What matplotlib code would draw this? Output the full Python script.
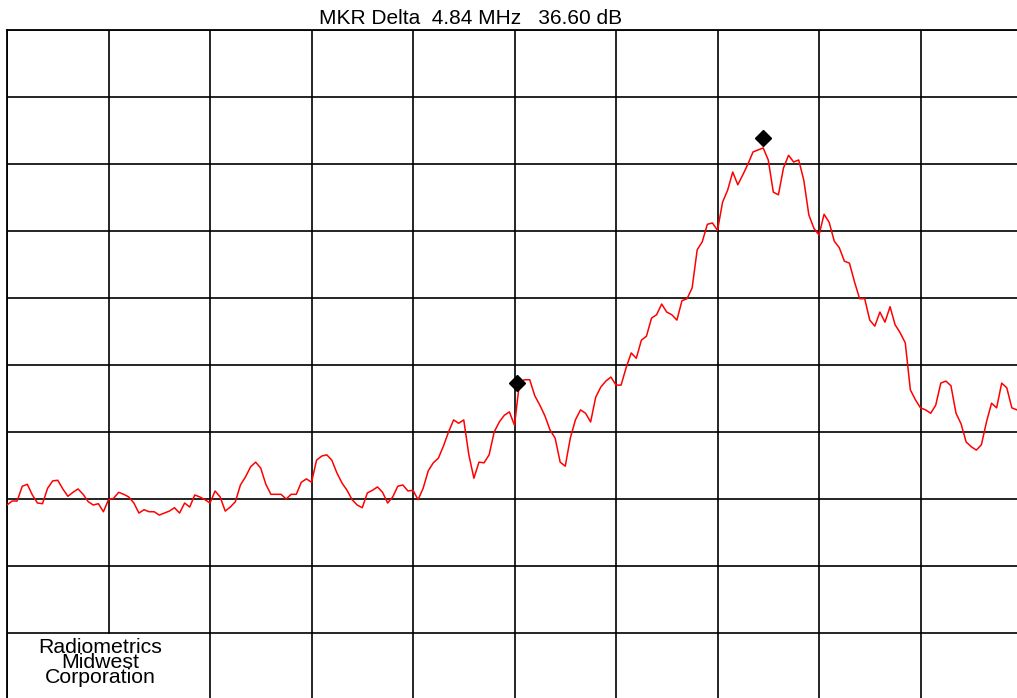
import numpy as np
import matplotlib
matplotlib.use("Agg")
import matplotlib.pyplot as plt
from matplotlib.patches import Rectangle

# Sweep settings: 20 MHz span, 2 MHz/div, 10 dB/div, 201 sweep points
span_mhz = 20.0
ref_level_db = 0.0
db_per_div = 10.0
n_points = 201

# Measured trace level at each sweep point (dB)
trace_db = [
    -70.9, -70.3, -70.3, -68.1, -67.8, -69.4, -70.6, -70.7, -68.4, -67.3,
    -67.2, -68.5, -69.6, -69.0, -68.5, -69.3, -70.4, -70.9, -70.7, -71.9,
    -70.1, -69.9, -69.0, -69.3, -69.7, -70.6, -72.1, -71.6, -71.9, -71.9,
    -72.4, -72.1, -71.8, -71.3, -72.1, -70.6, -71.2, -69.4, -69.7, -70.1,
    -70.6, -68.8, -69.7, -71.8, -71.2, -70.4, -67.9, -66.7, -65.2, -64.5,
    -65.4, -67.8, -69.3, -69.3, -69.3, -70.0, -69.3, -69.3, -67.5, -67.0,
    -67.5, -64.2, -63.6, -63.4, -64.2, -66.1, -67.6, -68.7, -70.1, -70.9,
    -71.3, -69.1, -68.7, -68.2, -69.0, -70.6, -69.7, -68.1, -67.9, -68.8,
    -68.7, -70.1, -68.4, -65.8, -64.6, -63.9, -62.1, -60.0, -58.2, -58.7,
    -58.2, -63.4, -66.9, -64.5, -64.6, -63.4, -60.0, -58.5, -57.5, -57.0,
    -59.0, -52.5, -52.2, -52.2, -54.6, -56.0, -57.6, -59.7, -60.9, -64.5,
    -65.1, -60.9, -58.2, -56.7, -57.2, -58.5, -54.8, -53.3, -52.4, -51.8,
    -53.0, -53.0, -50.4, -48.2, -49.0, -46.3, -45.7, -43.0, -42.5, -40.9,
    -42.1, -42.5, -43.3, -40.4, -40.1, -38.5, -32.8, -31.6, -29.0, -28.8,
    -29.9, -25.7, -23.9, -21.2, -23.1, -21.6, -20.0, -18.2, -17.9, -17.6,
    -19.4, -24.2, -24.6, -20.6, -18.7, -19.7, -19.4, -22.4, -27.6, -29.6,
    -30.6, -27.5, -28.7, -31.5, -32.5, -34.5, -34.8, -37.6, -40.1, -40.1,
    -43.3, -44.2, -42.1, -43.6, -41.3, -44.0, -45.2, -46.7, -53.7, -55.2,
    -56.4, -56.7, -57.2, -56.0, -52.7, -52.4, -53.1, -57.2, -58.8, -61.5,
    -62.2, -62.7, -61.9, -58.5, -55.7, -56.4, -52.7, -53.4, -56.4, -56.7,
    -56.4,
]

# Delta marker readout
marker1_mhz = 10.05
marker1_db = -52.70
delta_mhz = 4.84
delta_db = 36.60
marker2_mhz = marker1_mhz + delta_mhz
marker2_db = marker1_db + delta_db

title_text = f"MKR Delta  {delta_mhz:.2f} MHz   {delta_db:.2f} dB"
company_text = "Radiometrics\nMidwest\nCorporation"

freq_mhz = np.linspace(0.0, span_mhz, n_points)

plt.rcParams["font.family"] = ["Liberation Sans", "DejaVu Sans"]

fig = plt.figure(figsize=(10.17, 6.98), dpi=100)
fig.patch.set_facecolor("white")

ax = fig.add_axes([7 / 1017, 1 - 700 / 698, 1015 / 1017, 670 / 698])
ax.set_xlim(0, span_mhz)
ax.set_ylim(ref_level_db - 10 * db_per_div, ref_level_db)

# 10 x 10 graticule
ax.set_xticks(np.arange(0, span_mhz + 0.01, span_mhz / 10))
ax.set_yticks(np.arange(ref_level_db - 10 * db_per_div, ref_level_db + 0.01, db_per_div))
ax.tick_params(length=0, labelbottom=False, labelleft=False)
ax.grid(True, color="black", linewidth=1.2)
ax.set_axisbelow(True)
for side in ("right", "bottom"):
    ax.spines[side].set_visible(False)
for side in ("left", "top"):
    ax.spines[side].set_color("black")
    ax.spines[side].set_linewidth(1.3)

ax.plot(freq_mhz, trace_db, color="red", linewidth=1.1, zorder=3)

ax.plot([marker1_mhz, marker2_mhz], [marker1_db, marker2_db], linestyle="none",
        marker="D", markersize=8, color="black", zorder=4)

# Company label on a white patch in the lower-left cell
ax.add_patch(Rectangle((0.08, -101), 3.84, 10.8, facecolor="white",
                       edgecolor="none", zorder=2))
ax.text(1.83, -94.4, company_text, ha="center", va="center", fontsize=15.3,
        linespacing=0.72, color="black", zorder=5)

fig.text(471 / 1017, 1 - 18.5 / 698, title_text, ha="center", va="center",
         fontsize=15, color="black")

fig.savefig("out.png", dpi=100, facecolor="white")
